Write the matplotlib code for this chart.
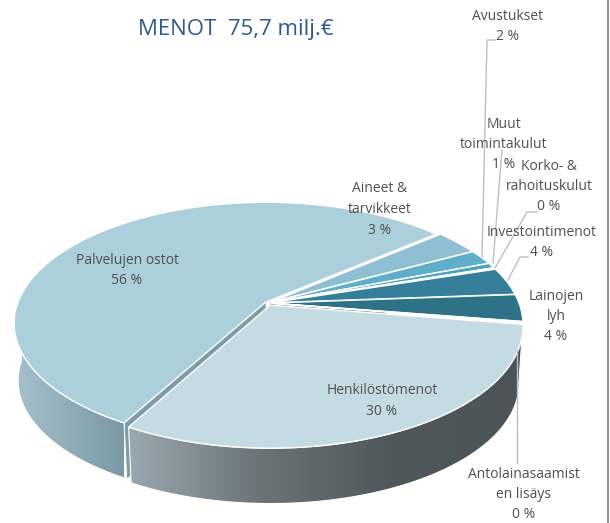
import numpy as np
import matplotlib
matplotlib.use('Agg')
import matplotlib.pyplot as plt
from matplotlib.colors import LinearSegmentedColormap
from matplotlib.patches import Polygon

# slices clockwise from the top right, sizes as measured on the picture
names = ['Aineet', 'Avustukset', 'Muut', 'Korko', 'Invest', 'Lainojen', 'Antolaina', 'Henkilosto', 'Palvelut']
values = [3.4, 2.0, 0.7, 0.2, 3.7, 3.6, 0.1, 30.5, 55.8]
colors = ['#8fbfd2', '#61aec9', '#4aa3c0', '#3f95b3', '#367f9b', '#2d7286', '#c5dbe4', '#c5dbe4', '#abcfdb']
gaps = [0.012, 0.012, 0.012, 0.012, 0.012, 0.012, 0.012, 0.02, 0.012]

start = 40.2
cx, cy = 268, 303
A, c, k = 248, 117.4, 0.1736
depth = 58
shrink = 0.985

def project(x, y, down=0, s=1.0):
    x = np.asarray(x)*s
    y = np.asarray(y)*s
    w = 1 + k*y
    return cx + A*x/w, cy - c*y/w + down

fig = plt.figure(figsize=(6.10, 5.23), dpi=100)
ax = fig.add_axes([0, 0, 1, 1])
ax.set_xlim(0, 610)
ax.set_ylim(523, 0)
ax.axis('off')
plt.rcParams['font.family'] = 'Open Sans'

frac = np.array(values)/sum(values)*360
ends = start - np.cumsum(frac)
starts = ends + frac

def disc_pts(i, n=120):
    t = np.radians(np.linspace(starts[i], ends[i], max(n, 4)))
    m = np.radians((starts[i]+ends[i])/2)
    ox, oy = gaps[i]*np.cos(m), gaps[i]*np.sin(m)
    return t, ox, oy

def cut_face(i, angle, col):
    t, ox, oy = disc_pts(i, 4)
    a = np.radians(angle)
    x = np.array([ox, ox+np.cos(a)])
    y = np.array([oy, oy+np.sin(a)])
    px, py = project(x, y)
    qx, qy = project(x, y, depth, shrink)
    ax.fill(np.r_[px, qx[::-1]], np.r_[py, qy[::-1]], color=col, lw=0, zorder=1)

def wall(i, cols, x0, x1):
    t, ox, oy = disc_pts(i)
    keep = np.sin(t) <= 0.0
    t = t[keep]
    px, py = project(ox+np.cos(t), oy+np.sin(t))
    qx, qy = project(ox+np.cos(t), oy+np.sin(t), depth, shrink)
    pts = np.c_[np.r_[px, qx[::-1]], np.r_[py, qy[::-1]]]
    patch = Polygon(pts, closed=True, facecolor='none', edgecolor='white', lw=0.8, zorder=3)
    ax.add_patch(patch)
    cmap = LinearSegmentedColormap.from_list(names[i], cols)
    im = ax.imshow(np.linspace(0, 1, 256).reshape(1, -1), cmap=cmap, aspect='auto',
                   extent=[x0, x1, 523, 0], zorder=2)
    im.set_clip_path(patch)

pal = names.index('Palvelut')
hen = names.index('Henkilosto')
cut_face(pal, starts[pal], '#7d9ca6')
cut_face(0, starts[0], '#7f8c91')

wall(pal, ['#a5c0cb', '#7a99a5'], 15, 124)
wall(hen, ['#9aa8af', '#6a7479', '#4f585d', '#4c5459'], 128, 522)

for i in range(len(values)):
    t, ox, oy = disc_pts(i)
    x = np.r_[ox, ox+np.cos(t)]
    y = np.r_[oy, oy+np.sin(t)]
    px, py = project(x, y)
    ax.fill(px, py, facecolor=colors[i], edgecolor='white', lw=1.0, zorder=4)

ax.set_xlim(0, 610)
ax.set_ylim(523, 0)

# leader lines
line_col = '#bfbfbf'
ax.plot([495, 487, 482], [40, 40, 257], color=line_col, lw=1, zorder=5)
ax.plot([502, 493], [150, 263], color=line_col, lw=1, zorder=5)
ax.plot([537, 527, 495], [212, 212, 268], color=line_col, lw=1, zorder=5)
ax.plot([528, 520, 508], [257, 257, 280], color=line_col, lw=1, zorder=5)
ax.plot([517, 517], [350, 463], color=line_col, lw=1, zorder=5)

def label(x, y, *lines):
    for n, s in enumerate(lines):
        ax.text(x, y + n*20.5, s, ha='center', va='center', color='#505050', fontsize=10, zorder=6)

label(508, 16, 'Avustukset', '2 %')
label(504, 124, 'Muut', 'toimintakulut', '1 %')
label(549, 166, 'Korko- &', 'rahoituskulut', '0 %')
label(542, 232, 'Investointimenot', '4 %')
label(380, 189, 'Aineet &', 'tarvikkeet', '3 %')
label(127, 260, 'Palvelujen ostot', '56 %')
label(556, 296, 'Lainojen', 'lyh', '4 %')
label(382, 391, 'Henkilöstömenot', '30 %')
label(524, 474, 'Antolainasaamist', 'en lisäys', '0 %')
ax.text(138, 30, 'MENOT  75,7 milj.€', ha='left', va='center', color='#2f5a8f', fontsize=16)

# edge of the original screenshot
ax.plot([607.5, 607.5], [0, 523], color='#7f7f7f', lw=1.2, zorder=6)

fig.savefig('out.png', dpi=100)
